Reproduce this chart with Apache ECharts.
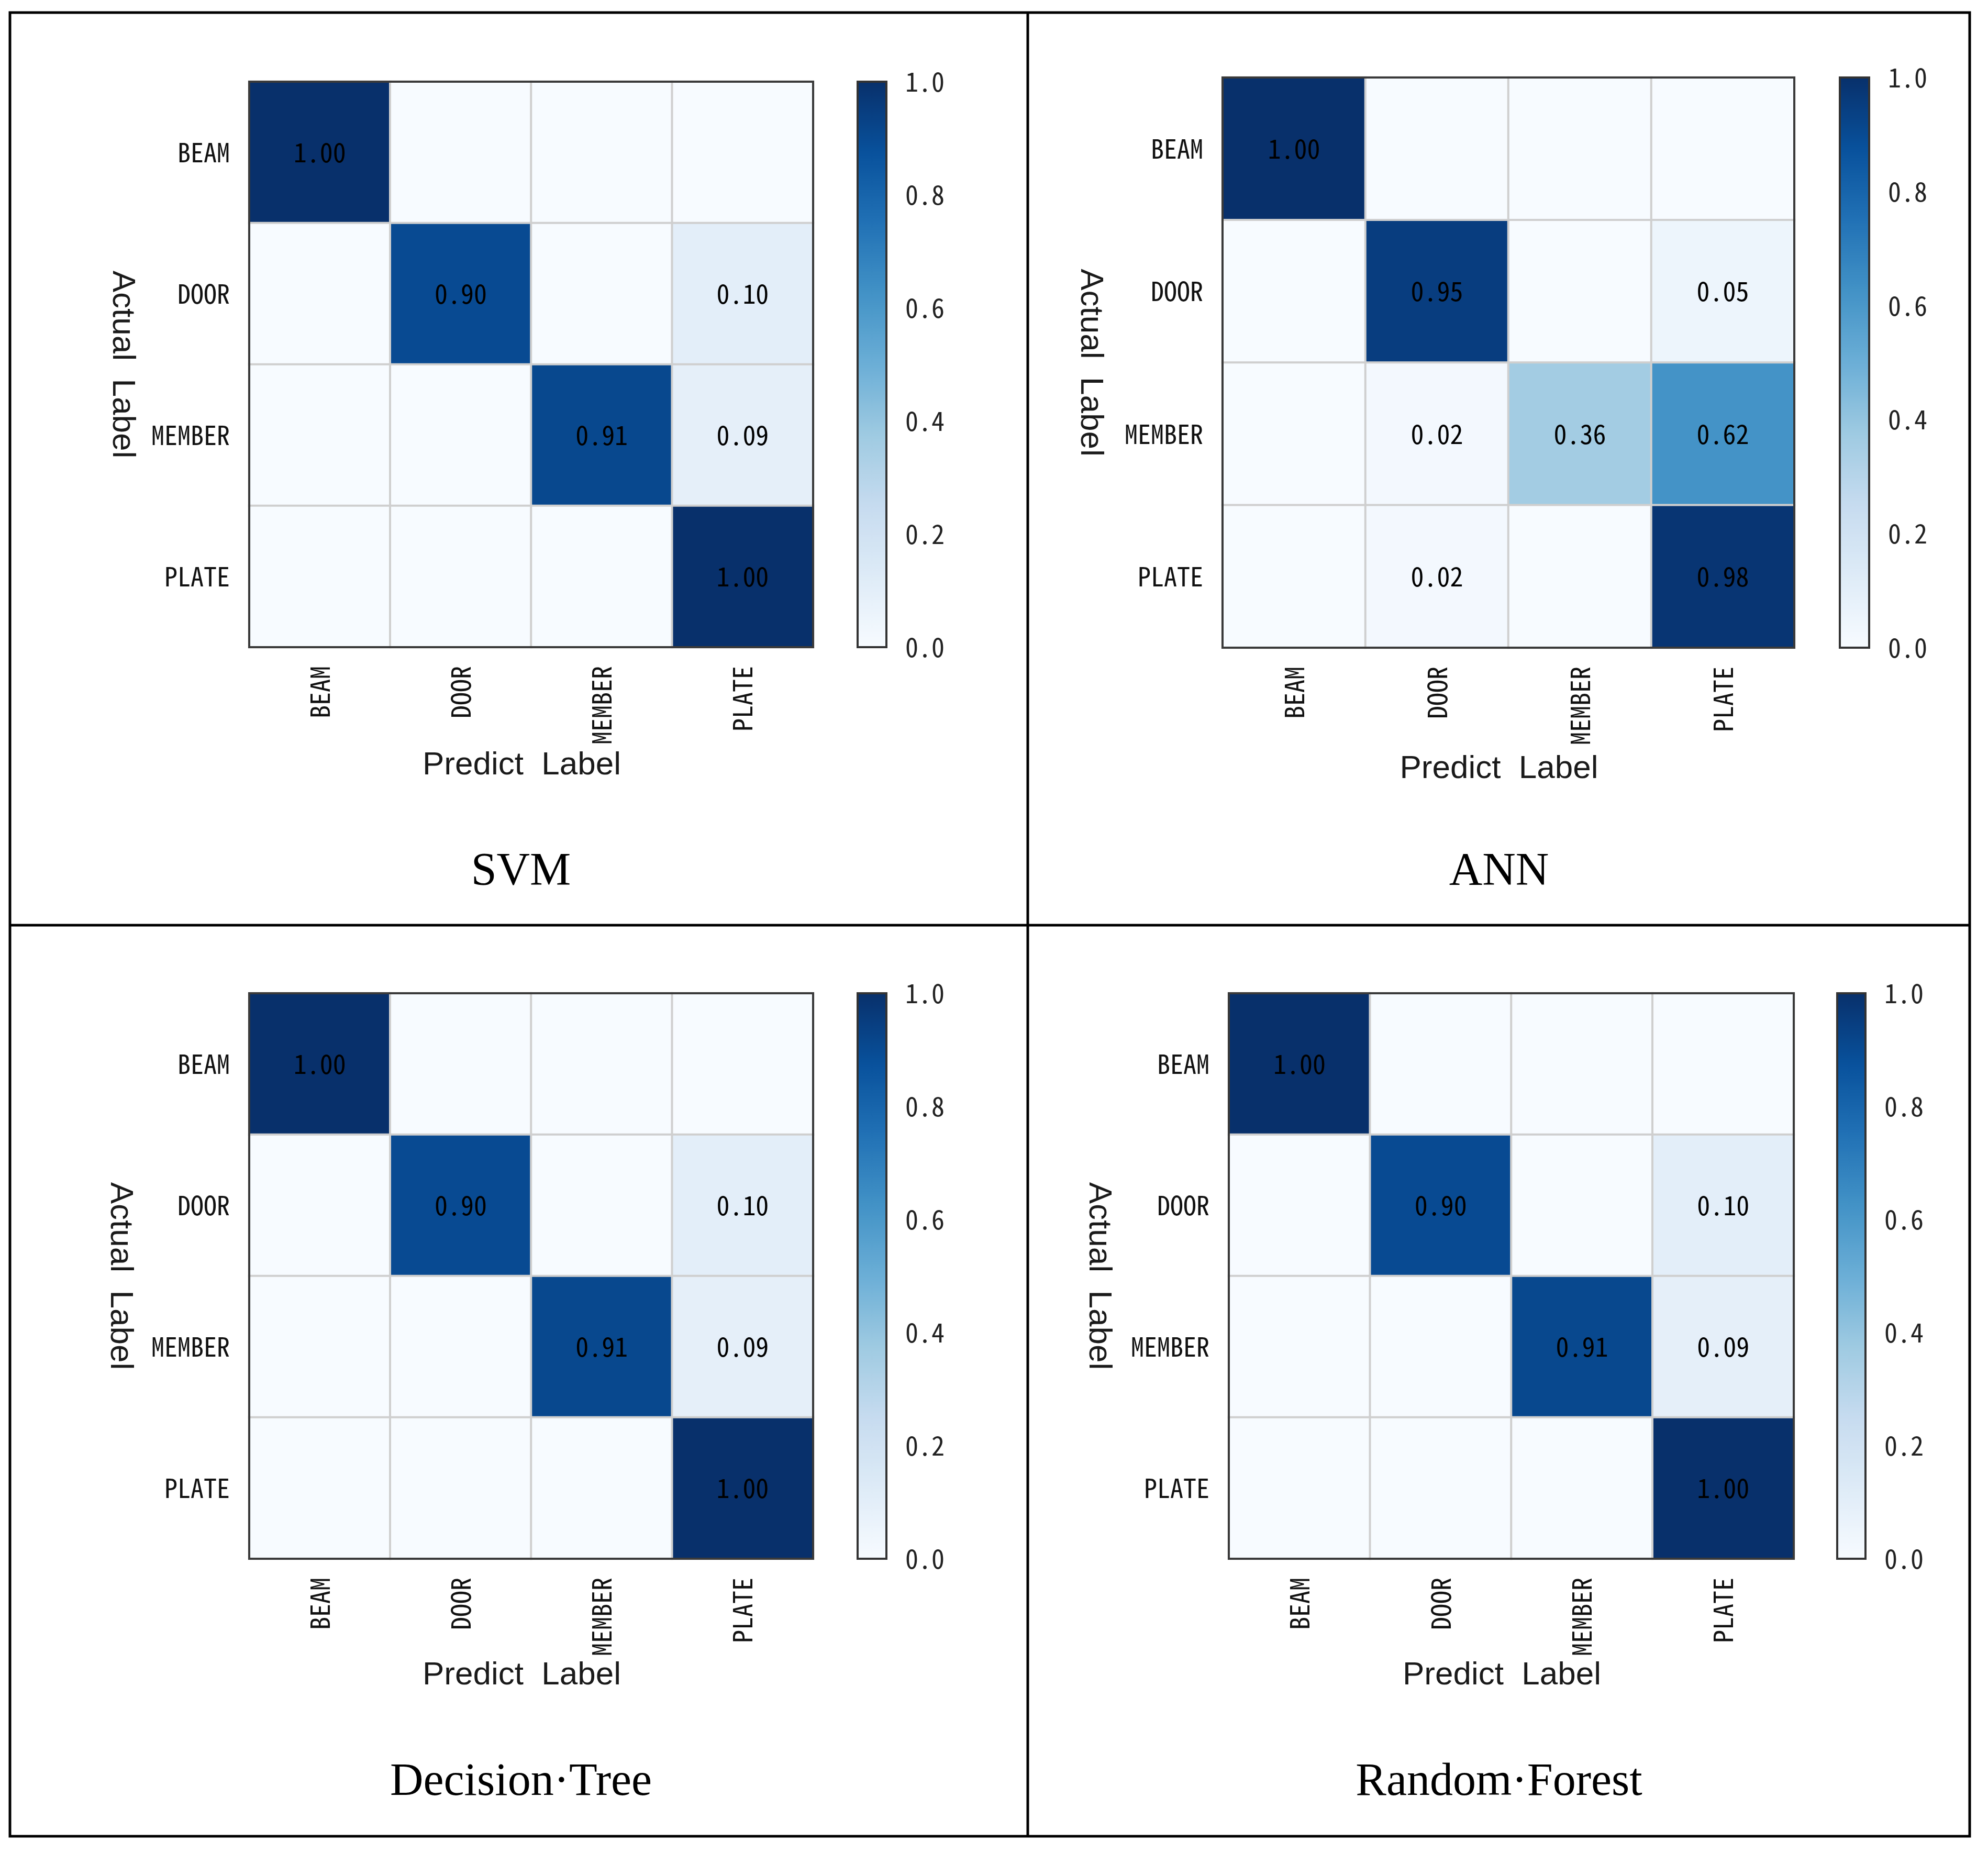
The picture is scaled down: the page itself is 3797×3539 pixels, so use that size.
<!DOCTYPE html>
<html lang="en">
<head>
  <meta charset="UTF-8">
  <title>Confusion matrices</title>
  <style>
    html, body { margin: 0; padding: 0; background: #fff; }
    #chart { width: 3797px; height: 3539px; }
  </style>
  <script src="https://cdn.jsdelivr.net/npm/echarts@6/dist/echarts.min.js"></script>
</head>
<body>
<div id="chart"></div>
<script>
  // data
  const categories = ['BEAM', 'DOOR', 'MEMBER', 'PLATE'];
  const modelNames = ['SVM', 'ANN', 'Decision·Tree', 'Random·Forest'];
  // rows = actual label, columns = predicted label
  const svmMatrix = [
    [1.00, 0, 0, 0],
    [0, 0.90, 0, 0.10],
    [0, 0, 0.91, 0.09],
    [0, 0, 0, 1.00]
  ];
  const annMatrix = [
    [1.00, 0, 0, 0],
    [0, 0.95, 0, 0.05],
    [0, 0.02, 0.36, 0.62],
    [0, 0.02, 0, 0.98]
  ];
  const treeMatrix = [
    [1.00, 0, 0, 0],
    [0, 0.90, 0, 0.10],
    [0, 0, 0.91, 0.09],
    [0, 0, 0, 1.00]
  ];
  const forestMatrix = [
    [1.00, 0, 0, 0],
    [0, 0.90, 0, 0.10],
    [0, 0, 0.91, 0.09],
    [0, 0, 0, 1.00]
  ];
  const matrices = [svmMatrix, annMatrix, treeMatrix, forestMatrix];

  // matplotlib "Blues"
  const blues = ['#f7fbff', '#deebf7', '#c6dbef', '#9ecae1', '#6baed6', '#4292c6', '#2171b5', '#08519c', '#08306b'];

  // panel layout (pixels)
  const panels = [
    { grid: [476, 156, 1077, 1080], bar: [1638, 156, 55, 1080], title: [995, 1666], yGap: 212, xGap: 195 },
    { grid: [2335, 148, 1092, 1089], bar: [3514, 148, 56, 1089], title: [2863, 1666], yGap: 222, xGap: 201 },
    { grid: [476, 1897, 1077, 1080], bar: [1638, 1897, 55, 1080], title: [995, 3405], yGap: 216, xGap: 192 },
    { grid: [2347, 1897, 1079, 1080], bar: [3509, 1897, 54, 1080], title: [2863, 3405], yGap: 218, xGap: 192 }
  ];

  const tickFont = '"Noto Sans Mono CJK SC", "Noto Sans CJK SC", monospace';
  const nameFont = '"Liberation Sans", Arial, sans-serif';

  const chart = echarts.init(document.getElementById('chart'));

  const grid = [], xAxis = [], yAxis = [], series = [], visualMap = [], graphic = [];

  panels.forEach((p, i) => {
    const g = p.grid, b = p.bar;
    // heatmap grid
    grid.push({ left: g[0], top: g[1], width: g[2], height: g[3], show: true,
      borderColor: '#3a3a3a', borderWidth: 4, backgroundColor: 'transparent', z: 10 });
    // colorbar grid
    grid.push({ left: b[0], top: b[1], width: b[2], height: b[3], show: true,
      borderColor: '#333', borderWidth: 4, backgroundColor: 'transparent', z: 10 });

    xAxis.push({
      gridIndex: 2 * i, type: 'category', data: categories,
      axisLine: { show: false }, axisTick: { show: false }, splitLine: { show: false },
      axisLabel: { rotate: 90, margin: 36, fontSize: 50, color: '#111', fontFamily: tickFont },
      name: 'Predict  Label', nameLocation: 'middle', nameGap: p.xGap, nameMoveOverlap: false,
      nameTextStyle: { fontSize: 62, color: '#1a1a1a', fontFamily: nameFont, padding: [0, 36, 0, 0] }
    });
    yAxis.push({
      gridIndex: 2 * i, type: 'category', data: categories, inverse: true,
      axisLine: { show: false }, axisTick: { show: false }, splitLine: { show: false },
      axisLabel: { margin: 37, fontSize: 50, color: '#111', fontFamily: tickFont },
      name: 'Actual  Label', nameLocation: 'middle', nameRotate: -90, nameGap: p.yGap, nameMoveOverlap: false,
      nameTextStyle: { fontSize: 62, color: '#1a1a1a', fontFamily: nameFont }
    });

    xAxis.push({ gridIndex: 2 * i + 1, type: 'value', show: false, min: 0, max: 1 });
    yAxis.push({
      gridIndex: 2 * i + 1, type: 'value', position: 'right', min: 0, max: 1, interval: 0.2,
      axisLine: { show: false }, splitLine: { show: false },
      axisTick: { show: true, length: 17, lineStyle: { color: '#333', width: 4 } },
      axisLabel: { margin: 36, fontSize: 50, color: '#222', fontFamily: tickFont,
        formatter: v => v.toFixed(1) }
    });

    const data = [];
    matrices[i].forEach((row, r) => row.forEach((v, c) => data.push([c, r, v])));
    series.push({
      type: 'heatmap', xAxisIndex: 2 * i, yAxisIndex: 2 * i, data: data,
      itemStyle: { borderColor: '#cfcfcf', borderWidth: 4 },
      label: { show: true, fontSize: 50, color: '#000', fontFamily: tickFont,
        formatter: q => q.value[2] > 0 ? q.value[2].toFixed(2) : '' },
      emphasis: { disabled: true }
    });

    visualMap.push({
      type: 'continuous', seriesIndex: i, dimension: 2, min: 0, max: 1,
      orient: 'vertical', left: b[0], top: b[1], itemWidth: b[2], itemHeight: b[3],
      padding: 0, calculable: false, text: null, showLabel: false, hoverLink: false,
      inRange: { color: blues }
    });

    graphic.push({
      type: 'text', x: p.title[0], y: p.title[1], z: 20,
      style: { text: modelNames[i], fontSize: 88, fontFamily: '"Liberation Serif", "DejaVu Serif", serif',
        fill: '#000', align: 'center', verticalAlign: 'middle' }
    });
  });

  // table frame around the four panels
  graphic.push({ type: 'rect', z: 20, shape: { x: 19, y: 24, width: 3743, height: 3483 },
    style: { fill: 'none', stroke: '#000', lineWidth: 5 } });
  graphic.push({ type: 'line', z: 20, shape: { x1: 1963, y1: 24, x2: 1963, y2: 3507 },
    style: { stroke: '#000', lineWidth: 5 } });
  graphic.push({ type: 'line', z: 20, shape: { x1: 19, y1: 1767, x2: 3762, y2: 1767 },
    style: { stroke: '#000', lineWidth: 5 } });

  chart.setOption({
    backgroundColor: '#fff',
    animation: false,
    grid, xAxis, yAxis, series, visualMap, graphic
  });
</script>
</body>
</html>
